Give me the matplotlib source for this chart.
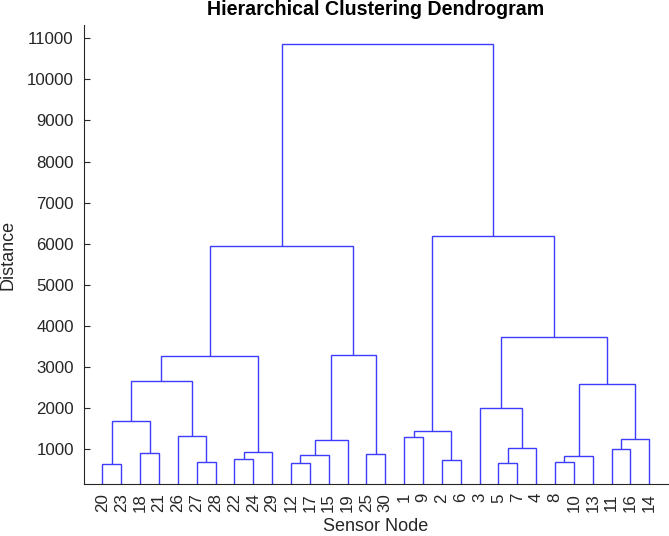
import matplotlib
matplotlib.use("Agg")
import matplotlib.pyplot as plt

plt.rcParams['font.family'] = ['Liberation Sans', 'DejaVu Sans']

# Leaf order (sensor nodes as shown on x axis)
leaf_order = [20, 23, 18, 21, 26, 27, 28, 22, 24, 29, 12, 17, 15, 19, 25, 30,
              1, 9, 2, 6, 3, 5, 7, 4, 8, 10, 13, 11, 16, 14]

# Linkage: node ids 1..30 are sensors; merge k creates cluster id 31+k
merge_left = [20, 18, 27, 26, 31, 35, 22, 37, 36, 12, 40, 41, 25, 42, 39,
              1, 2, 46, 5, 49, 3, 8, 52, 11, 54, 53, 51, 48, 45]
merge_right = [23, 21, 28, 33, 32, 34, 24, 29, 38, 17, 15, 19, 30, 43, 44,
               9, 6, 47, 7, 4, 50, 10, 13, 16, 14, 55, 56, 57, 58]
merge_height = [635, 903, 674, 1307, 1672, 2662, 757, 934, 3253, 660, 844, 1226,
                878, 3285, 5940, 1282, 723, 1445, 670, 1032, 1998, 683, 840,
                1007, 1243, 2589, 3720, 6195, 10855]

y_ticks = [1000, 2000, 3000, 4000, 5000, 6000, 7000, 8000, 9000, 10000, 11000]

W, H = 669, 536
fig = plt.figure(figsize=(W / 100, H / 100), dpi=100)
ax = fig.add_axes([83.5 / W, 1 - 484 / H, (668.2 - 83.5) / W, (484 - 25) / H])

n_leaves = len(leaf_order)
xpos = {s: i + 1 for i, s in enumerate(leaf_order)}
ypos = {s: 0.0 for s in leaf_order}
line_color = '#3d3dff'
for k, (a, b, h) in enumerate(zip(merge_left, merge_right, merge_height)):
    xa, xb = xpos[a], xpos[b]
    ya, yb = ypos[a], ypos[b]
    ax.plot([xa, xa, xb, xb], [ya, h, h, yb], color=line_color, lw=1.0,
            solid_joinstyle='miter', solid_capstyle='butt')
    nid = n_leaves + 1 + k
    xpos[nid] = (xa + xb) / 2
    ypos[nid] = h

ax.set_xlim(0, n_leaves + 1)
ax.set_ylim(148, 11324)
ax.set_xticks(range(1, n_leaves + 1))
ax.set_xticklabels([str(s) for s in leaf_order], rotation=90)
ax.set_yticks(y_ticks)
ax.set_yticklabels([str(v) for v in y_ticks])

tc = '#262626'
for side in ['top', 'right']:
    ax.spines[side].set_visible(False)
for side in ['left', 'bottom']:
    ax.spines[side].set_color(tc)
    ax.spines[side].set_linewidth(0.8)
ax.tick_params(axis='both', direction='in', colors=tc, labelsize=12.2,
               length=4, width=0.8)
ax.tick_params(axis='y', pad=7)
ax.tick_params(axis='x', pad=6.5, length=0)

fig.text(8 / W, 1 - 255 / H, 'Distance', rotation=90, ha='center', va='center',
         fontsize=13, color=tc)
fig.text(376 / W, 1 - 526.5 / H, 'Sensor Node', ha='center', va='center',
         fontsize=13, color=tc)
fig.text(376 / W, 1 - 9.5 / H, 'Hierarchical Clustering Dendrogram', ha='center',
         va='center', fontsize=14.1, fontweight='bold', color='black')

fig.savefig('out.png', dpi=100)
